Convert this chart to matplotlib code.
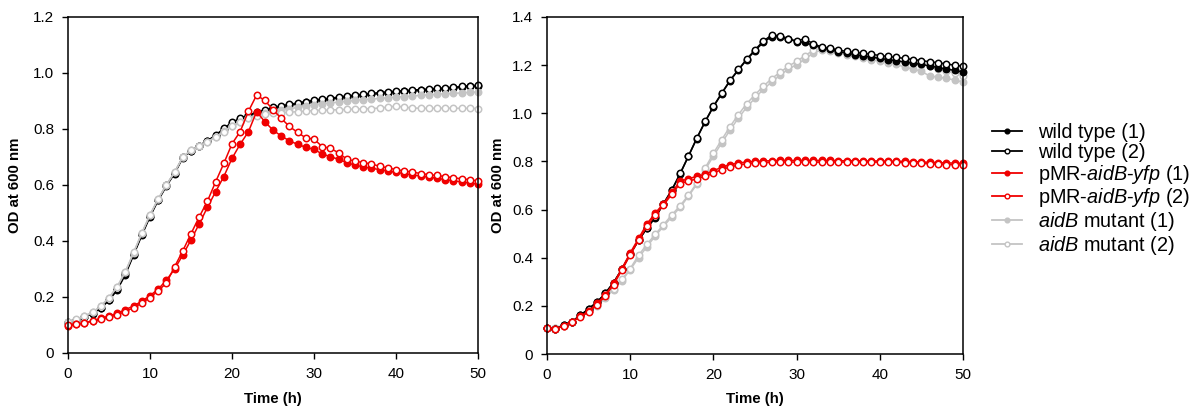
import matplotlib
matplotlib.use("Agg")
import matplotlib.pyplot as plt
import numpy as np

plt.rcParams['font.family'] = ['Liberation Sans', 'DejaVu Sans']
plt.rcParams['mathtext.fontset'] = 'custom'
plt.rcParams['mathtext.it'] = 'Liberation Sans:italic'
plt.rcParams['mathtext.rm'] = 'Liberation Sans'

time_h = list(range(0, 51))

# ---------- Left panel ----------
L_wt1 = [0.108, 0.117, 0.128, 0.141, 0.160, 0.188, 0.225, 0.280, 0.350, 0.420,
         0.487, 0.545, 0.596, 0.641, 0.697, 0.722, 0.740, 0.757, 0.776, 0.800,
         0.822, 0.836, 0.848, 0.857, 0.866, 0.874, 0.880, 0.885, 0.890, 0.895,
         0.900, 0.904, 0.907, 0.911, 0.915, 0.918, 0.921, 0.924, 0.927, 0.930,
         0.932, 0.934, 0.936, 0.938, 0.940, 0.942, 0.944, 0.946, 0.949, 0.952, 0.953]
L_wt2 = [0.109, 0.118, 0.129, 0.142, 0.162, 0.190, 0.228, 0.284, 0.353, 0.424,
         0.490, 0.548, 0.599, 0.644, 0.699, 0.723, 0.741, 0.758, 0.778, 0.802,
         0.824, 0.838, 0.850, 0.859, 0.868, 0.877, 0.883, 0.888, 0.893, 0.898,
         0.903, 0.907, 0.910, 0.914, 0.918, 0.921, 0.924, 0.927, 0.930, 0.933,
         0.935, 0.937, 0.939, 0.941, 0.943, 0.945, 0.947, 0.949, 0.952, 0.955, 0.956]
L_red1 = [0.098, 0.102, 0.108, 0.115, 0.124, 0.132, 0.142, 0.155, 0.168, 0.185,
          0.205, 0.228, 0.260, 0.300, 0.350, 0.404, 0.461, 0.520, 0.576, 0.630,
          0.695, 0.746, 0.790, 0.862, 0.826, 0.796, 0.775, 0.758, 0.745, 0.735,
          0.727, 0.711, 0.701, 0.692, 0.680, 0.671, 0.665, 0.660, 0.655, 0.650,
          0.645, 0.641, 0.636, 0.632, 0.628, 0.624, 0.619, 0.615, 0.611, 0.607, 0.603]
L_red2 = [0.100, 0.103, 0.108, 0.113, 0.120, 0.128, 0.137, 0.148, 0.162, 0.178,
          0.198, 0.222, 0.250, 0.308, 0.365, 0.426, 0.486, 0.542, 0.611, 0.677,
          0.747, 0.791, 0.863, 0.921, 0.902, 0.869, 0.838, 0.809, 0.788, 0.768,
          0.764, 0.737, 0.731, 0.715, 0.692, 0.685, 0.680, 0.675, 0.667, 0.661,
          0.655, 0.650, 0.646, 0.641, 0.637, 0.634, 0.630, 0.626, 0.622, 0.619, 0.614]
L_mut1 = [0.110, 0.119, 0.131, 0.145, 0.167, 0.197, 0.236, 0.290, 0.358, 0.428,
          0.493, 0.550, 0.600, 0.645, 0.700, 0.724, 0.740, 0.755, 0.772, 0.792,
          0.812, 0.826, 0.840, 0.850, 0.857, 0.862, 0.868, 0.872, 0.877, 0.882,
          0.886, 0.890, 0.893, 0.896, 0.899, 0.902, 0.905, 0.907, 0.909, 0.912,
          0.914, 0.916, 0.918, 0.920, 0.922, 0.924, 0.926, 0.927, 0.929, 0.931, 0.932]
L_mut2 = [0.111, 0.120, 0.132, 0.146, 0.168, 0.198, 0.237, 0.291, 0.359, 0.429,
          0.494, 0.551, 0.601, 0.646, 0.700, 0.724, 0.739, 0.754, 0.770, 0.790,
          0.810, 0.824, 0.838, 0.847, 0.852, 0.856, 0.858, 0.860, 0.862, 0.864,
          0.866, 0.867, 0.868, 0.869, 0.870, 0.871, 0.872, 0.873, 0.875, 0.878,
          0.882, 0.878, 0.875, 0.874, 0.874, 0.874, 0.875, 0.874, 0.874, 0.874, 0.873]

# ---------- Right panel ----------
R_wt1 = [0.107, 0.103, 0.120, 0.135, 0.160, 0.188, 0.215, 0.252, 0.297, 0.352,
         0.415, 0.472, 0.522, 0.566, 0.623, 0.680, 0.748, 0.821, 0.895, 0.964,
         1.027, 1.082, 1.135, 1.180, 1.222, 1.260, 1.295, 1.318, 1.318, 1.308,
         1.298, 1.295, 1.282, 1.272, 1.265, 1.256, 1.250, 1.244, 1.238, 1.233,
         1.228, 1.223, 1.218, 1.213, 1.208, 1.203, 1.197, 1.190, 1.184, 1.178, 1.172]
R_wt2 = [0.107, 0.103, 0.120, 0.135, 0.160, 0.188, 0.215, 0.252, 0.297, 0.352,
         0.415, 0.472, 0.522, 0.568, 0.625, 0.682, 0.750, 0.823, 0.897, 0.966,
         1.029, 1.084, 1.137, 1.182, 1.225, 1.264, 1.300, 1.325, 1.322, 1.310,
         1.300, 1.310, 1.288, 1.276, 1.270, 1.263, 1.257, 1.253, 1.249, 1.245,
         1.240, 1.236, 1.232, 1.228, 1.223, 1.219, 1.214, 1.210, 1.205, 1.200, 1.195]
R_red1 = [0.107, 0.103, 0.118, 0.135, 0.156, 0.178, 0.210, 0.245, 0.293, 0.355,
          0.420, 0.480, 0.540, 0.585, 0.625, 0.672, 0.718, 0.728, 0.738, 0.746,
          0.762, 0.775, 0.787, 0.793, 0.798, 0.800, 0.802, 0.803, 0.804, 0.804,
          0.804, 0.804, 0.804, 0.804, 0.804, 0.803, 0.803, 0.803, 0.802, 0.802,
          0.802, 0.801, 0.801, 0.800, 0.799, 0.798, 0.796, 0.795, 0.794, 0.793, 0.792]
R_red2 = [0.107, 0.103, 0.117, 0.133, 0.153, 0.174, 0.205, 0.240, 0.288, 0.348,
          0.412, 0.472, 0.530, 0.577, 0.618, 0.664, 0.708, 0.718, 0.728, 0.738,
          0.752, 0.766, 0.777, 0.785, 0.790, 0.793, 0.795, 0.796, 0.797, 0.797,
          0.797, 0.797, 0.797, 0.797, 0.797, 0.797, 0.797, 0.797, 0.797, 0.797,
          0.797, 0.796, 0.796, 0.795, 0.794, 0.792, 0.790, 0.788, 0.787, 0.786, 0.785]
R_mut1 = [0.107, 0.108, 0.118, 0.132, 0.158, 0.178, 0.200, 0.232, 0.267, 0.305,
          0.350, 0.400, 0.445, 0.490, 0.530, 0.570, 0.610, 0.655, 0.705, 0.765,
          0.822, 0.877, 0.930, 0.980, 1.025, 1.063, 1.100, 1.130, 1.158, 1.183,
          1.202, 1.225, 1.250, 1.263, 1.258, 1.250, 1.243, 1.236, 1.230, 1.223,
          1.216, 1.210, 1.203, 1.192, 1.184, 1.174, 1.155, 1.150, 1.145, 1.138, 1.130]
R_mut2 = [0.107, 0.110, 0.120, 0.135, 0.162, 0.180, 0.203, 0.235, 0.270, 0.310,
          0.355, 0.410, 0.455, 0.497, 0.537, 0.578, 0.616, 0.660, 0.710, 0.772,
          0.834, 0.890, 0.945, 0.994, 1.040, 1.077, 1.112, 1.144, 1.170, 1.195,
          1.216, 1.239, 1.262, 1.271, 1.267, 1.258, 1.252, 1.247, 1.241, 1.236,
          1.230, 1.225, 1.219, 1.214, 1.208, 1.202, 1.195, 1.186, 1.176, 1.166, 1.156]

labels = ['wild type (1)', 'wild type (2)',
          r'pMR-$\mathit{aidB}$-$\mathit{yfp}$ (1)', r'pMR-$\mathit{aidB}$-$\mathit{yfp}$ (2)',
          r'$\mathit{aidB}$ mutant (1)', r'$\mathit{aidB}$ mutant (2)']

BLACK = '#000000'
RED = '#f00000'
GRAY = '#c4c4c4'

fig = plt.figure(figsize=(12, 4.18), dpi=100)
axL = fig.add_axes([68/1200, 1-353/418, 410/1200, 336/418])
axR = fig.add_axes([547/1200, 1-354/418, 416/1200, 337/418])

def draw(ax, wt1, wt2, red1, red2, mut1, mut2, order):
    series = {
        'wt1': (wt1, BLACK, True, labels[0]),
        'wt2': (wt2, BLACK, False, labels[1]),
        'red1': (red1, RED, True, labels[2]),
        'red2': (red2, RED, False, labels[3]),
        'mut1': (mut1, GRAY, True, labels[4]),
        'mut2': (mut2, GRAY, False, labels[5]),
    }
    handles = {}
    for key in order:
        vals, col, filled, lab = series[key]
        h, = ax.plot(time_h, vals, color=col, lw=1.1, marker='o', ms=4.6,
                     mew=1.1, mec=col, mfc=col if filled else 'white',
                     label=lab, clip_on=False)
        handles[key] = h
    return handles

hL = draw(axL, L_wt1, L_wt2, L_red1, L_red2, L_mut1, L_mut2,
          ['wt1', 'wt2', 'mut1', 'mut2', 'red1', 'red2'])
hR = draw(axR, R_wt1, R_wt2, R_red1, R_red2, R_mut1, R_mut2,
          ['mut1', 'mut2', 'wt1', 'wt2', 'red1', 'red2'])

for ax, ymax in ((axL, 1.2), (axR, 1.4)):
    ax.set_xlim(0, 50)
    ax.set_ylim(0, ymax)
    ax.set_xticks([0, 10, 20, 30, 40, 50])
    yt = np.round(np.arange(0, ymax + 0.001, 0.2), 1)
    ax.set_yticks(yt)
    ax.set_yticklabels(['0'] + [f'{v:.1f}' for v in yt[1:]])
    ax.tick_params(direction='out', length=4, width=1.0, labelsize=11, pad=6)
    for sp in ax.spines.values():
        sp.set_linewidth(1.1)
    ax.set_xlabel('Time (h)', fontsize=10.8, fontweight='bold')
    ax.set_ylabel('OD at 600 nm', fontsize=10.8, fontweight='bold')

axL.yaxis.set_label_coords((22-68)/410, 0.5)
axR.yaxis.set_label_coords((505-547)/416, 0.5)
axL.xaxis.set_label_coords(0.5, -(392-353)/336)
axR.xaxis.set_label_coords(0.5, -(392-354)/337)

order = ['wt1', 'wt2', 'red1', 'red2', 'mut1', 'mut2']
leg_handles = []
for k in order:
    h = hL[k]
    lh = matplotlib.lines.Line2D([], [], color=h.get_color(), lw=1.3, marker='o',
                                 ms=3.4, mew=1.0, mec=h.get_color(),
                                 mfc=h.get_markerfacecolor())
    leg_handles.append(lh)
fig.legend(leg_handles, [hL[k].get_label() for k in order],
           loc='upper left', bbox_to_anchor=(992/1200, 1-123/418),
           frameon=False, fontsize=14.3, handlelength=1.5, handletextpad=0.8,
           labelspacing=0.04, borderpad=0, borderaxespad=0)

fig.savefig('out.png', dpi=100)
